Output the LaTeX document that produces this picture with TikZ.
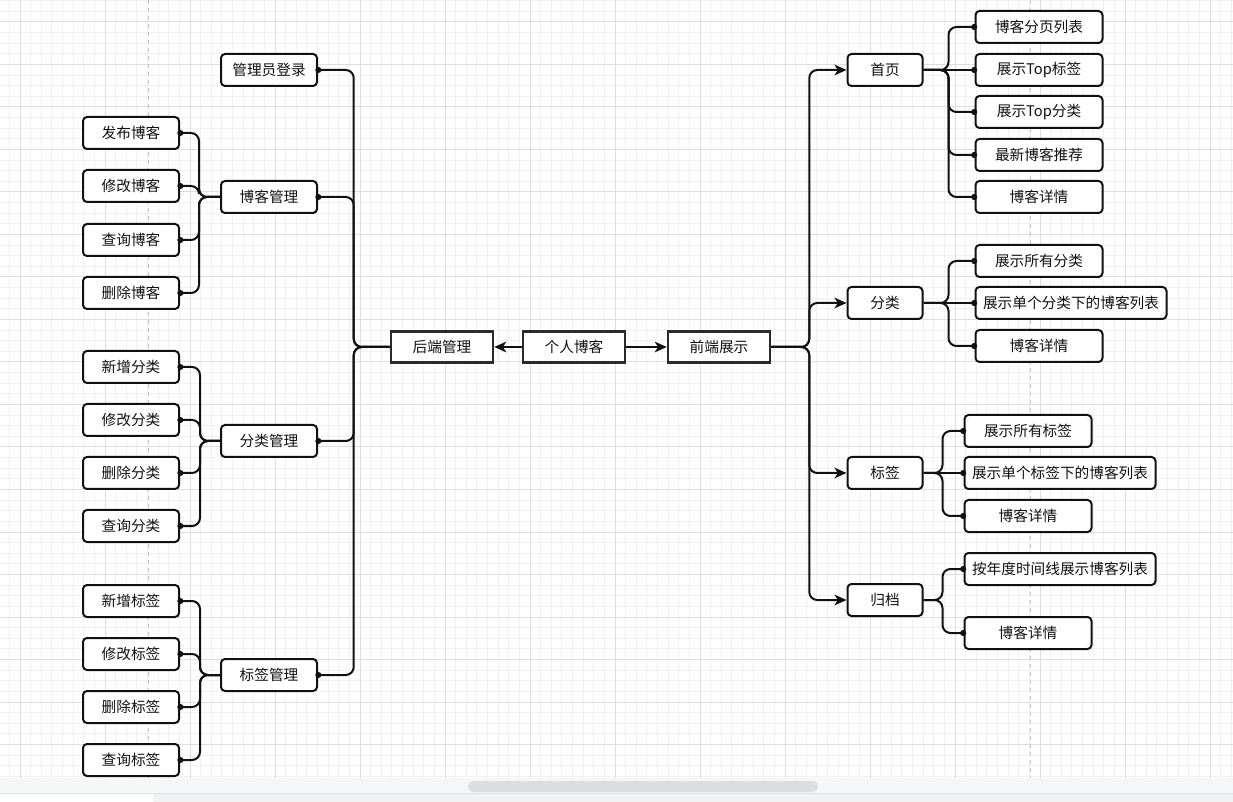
\documentclass[tikz,border=0pt]{standalone}
\usepackage{fontspec}
\newfontfamily\cjk{Noto Sans CJK SC}
\usetikzlibrary{arrows.meta}
\definecolor{blogInk}{HTML}{111111}
\definecolor{blogCore}{HTML}{2A2A2A}
\definecolor{blogMinor}{HTML}{F1F1F1}
\definecolor{blogMajor}{HTML}{DEDEDE}
\definecolor{blogPage}{HTML}{C6C6C6}
\definecolor{blogBar}{HTML}{F5F6F8}
\definecolor{blogThumb}{HTML}{DCDDE0}
\tikzset{
  blog text/.style={font=\cjk\fontsize{11}{13}\selectfont, text=blogInk},
  blog leaf/.style={blog text, draw=blogInk, fill=white, line width=1.5pt, rounded corners=3pt, minimum height=24pt, inner sep=0pt},
  blog core/.style={blog text, draw=blogCore, fill=white, line width=1.9pt, minimum width=76.5pt, minimum height=23.5pt, inner sep=0pt},
  blog link/.style={draw=blogInk, line width=1.5pt, rounded corners=6pt},
  blog dot/.style={blog link, -{Circle[length=4.5pt]}, shorten >=-2pt},
  blog arrow/.style={blog link, -{Stealth[length=9pt,width=8pt,inset=2.5pt]}},
}

\begin{document}
\begin{tikzpicture}[x=0.75pt,y=-0.75pt]
  \useasboundingbox (0,0) rectangle (1233,802);
  % background grid
  \begin{scope}
    \clip (0,0) rectangle (1233,778);
    \foreach \i in {-2,...,116}{\draw[blogMinor,line width=0.75pt] ({20+10.625*\i},0)--++(0,778);}
    \foreach \j in {-3,...,73}{\draw[blogMinor,line width=0.75pt] (0,{22+10.625*\j})--++(1233,0);}
    \foreach \i in {0,...,14}{\draw[blogMajor,line width=0.75pt] ({20+85*\i},0)--++(0,778);}
    \foreach \j in {0,...,17}{\draw[blogMajor,line width=0.75pt] (0,{22+42.5*\j})--++(1233,0);}
    \draw[blogPage,dashed,line width=0.75pt] (148,0)--(148,778) (1030,0)--(1030,778);
  \end{scope}
  % scroll bar
  \fill[blogBar] (0,778) rectangle (1233,793);
  \draw[blogMajor,line width=0.75pt] (0,793.5)--(1233,793.5);
  \fill[blogMinor] (153,794) rectangle (1233,802);
  \fill[blogThumb,rounded corners=4pt] (468,781) rectangle (818,792);

  % centre
  \node[blog core] (grbk) at (574,347) {个人博客};
  \node[blog core] (hdgl) at (442,347) {后端管理};
  \node[blog core] (qdzs) at (719,347) {前端展示};
  \draw[blog arrow] (grbk) -- (hdgl);
  \draw[blog arrow] (grbk) -- (qdzs);

  % back end
  \foreach \name/\txt/\y in {glydl/管理员登录/70, bkgl/博客管理/197, flgl/分类管理/441, bqgl/标签管理/675}{
    \node[blog leaf,minimum width=72pt] (\name) at (269,\y) {\txt};
    \draw[blog dot] (hdgl.west) -- ++(-36,0) |- (\name.east);}
  \foreach \name/\txt/\y in {fbbk/发布博客/133, xgbk/修改博客/186, cxbk/查询博客/240, scbk/删除博客/293}{
    \node[blog leaf,minimum width=72pt] (\name) at (131,\y) {\txt};
    \draw[blog dot] (bkgl.west) -- ++(-21,0) |- (\name.east);}
  \foreach \name/\txt/\y in {xzfl/新增分类/367, xgfl/修改分类/420, scfl/删除分类/473, cxfl/查询分类/526}{
    \node[blog leaf,minimum width=72pt] (\name) at (131,\y) {\txt};
    \draw[blog dot] (flgl.west) -- ++(-20,0) |- (\name.east);}
  \foreach \name/\txt/\y in {xzbq/新增标签/601, xgbq/修改标签/654, scbq/删除标签/707, cxbq/查询标签/760}{
    \node[blog leaf,minimum width=72pt] (\name) at (131,\y) {\txt};
    \draw[blog dot] (bqgl.west) -- ++(-20,0) |- (\name.east);}

  % front end
  \foreach \name/\txt/\y in {sy/首页/70, fl/分类/303, bq/标签/473, gd/归档/600}{
    \node[blog leaf,minimum width=56.25pt] (\name) at (885,\y) {\txt};
    \draw[blog arrow] (qdzs.east) -- ++(38,0) |- (\name.west);}
  \foreach \name/\txt/\y in {sy1/博客分页列表/27, sy3/展示Top分类/112, sy4/最新博客推荐/155, sy5/博客详情/197}{
    \node[blog leaf,minimum width=95.25pt] (\name) at (1039,\y) {\txt};
    \draw[blog dot] (sy.east) -- ++(25,0) |- (\name.west);}
  \node[blog leaf,minimum width=95.25pt] (sy2) at (1039,70) {展示Top标签};
  \draw[blog dot] (sy.east) -- (sy2.west);
  \foreach \name/\txt/\y in {fl1/展示所有分类/261, fl3/博客详情/346}{
    \node[blog leaf,minimum width=95.25pt] (\name) at (1039,\y) {\txt};
    \draw[blog dot] (fl.east) -- ++(25,0) |- (\name.west);}
  \node[blog leaf,minimum width=143.25pt] (fl2) at (1071,303) {展示单个分类下的博客列表};
  \draw[blog dot] (fl.east) -- (fl2.west);
  \foreach \name/\txt/\y in {bq1/展示所有标签/431, bq3/博客详情/516}{
    \node[blog leaf,minimum width=95.25pt] (\name) at (1028,\y) {\txt};
    \draw[blog dot] (bq.east) -- ++(19,0) |- (\name.west);}
  \node[blog leaf,minimum width=143.25pt] (bq2) at (1060,473) {展示单个标签下的博客列表};
  \draw[blog dot] (bq.east) -- (bq2.west);
  \node[blog leaf,minimum width=143.25pt] (gd1) at (1060,569) {按年度时间线展示博客列表};
  \node[blog leaf,minimum width=95.25pt] (gd2) at (1028,633) {博客详情};
  \foreach \name in {gd1,gd2}{\draw[blog dot] (gd.east) -- ++(19,0) |- (\name.west);}
\end{tikzpicture}
\end{document}
